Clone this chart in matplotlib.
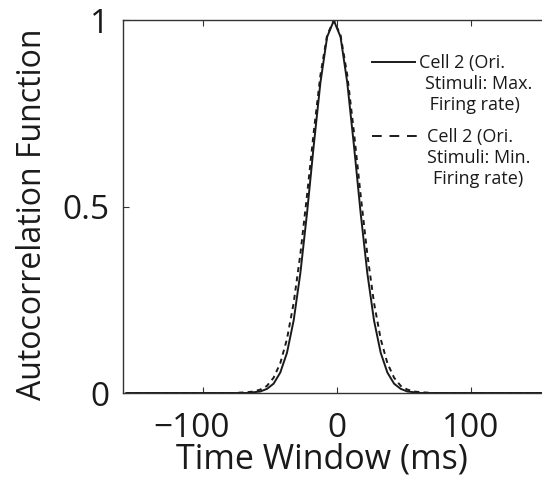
import numpy as np
import matplotlib
matplotlib.use("Agg")
import matplotlib.pyplot as plt
from matplotlib.lines import Line2D
from matplotlib.transforms import ScaledTranslation

plt.rcParams['font.family'] = ['Open Sans', 'DejaVu Sans']

# ---- data ----
lag_ms = np.arange(-157.5, 155.0, 5.0)          # time-window lags (63 samples)
acf_max_rate = ([0.0] * 19 +
                [0.002, 0.004, 0.011, 0.025, 0.055, 0.108, 0.195, 0.322, 0.484, 0.665, 0.834, 0.956,
                 1.0,
                 0.956, 0.834, 0.665, 0.484, 0.322, 0.195, 0.108, 0.055, 0.025, 0.011, 0.004, 0.002] +
                [0.0] * 19)
acf_min_rate = ([0.0] * 17 +
                [0.001, 0.002, 0.004, 0.009, 0.019, 0.041, 0.080, 0.145, 0.242, 0.373, 0.532, 0.701, 0.854, 0.961,
                 1.0,
                 0.961, 0.854, 0.701, 0.532, 0.373, 0.242, 0.145, 0.080, 0.041, 0.019, 0.009, 0.004, 0.002, 0.001] +
                [0.0] * 17)
x_ticks = [-100, 0, 100]
x_ticklabels = ['\u2212100', '0', '100']
y_ticks = [0, 0.5, 1]
y_ticklabels = ['0', '0.5', '1']
legend_max = ['Cell 2 (Ori.', '\u2009\u2009Stimuli: Max.', ' \u2009\u2009Firing rate)']
legend_min = ['Cell 2 (Ori.', 'Stimuli: Min.', '\u2009\u2009Firing rate)']

W, H = 542, 486
fig = plt.figure(figsize=(W / 100, H / 100), dpi=100)
L, R, T, B = 123, 542, 20.5, 393
ax = fig.add_axes([L / W, (H - B) / H, (R - L) / W, (B - T) / H])

ink = '#1a1a1a'
ax.plot(lag_ms, acf_max_rate, color=ink, lw=1.4, solid_joinstyle='miter')
ax.plot(lag_ms, acf_min_rate, color=ink, lw=1.4, dashes=(2.6, 2.2))

ax.set_xlim(-160, 153)
ax.set_ylim(0, 1)
ax.spines['right'].set_visible(False)
for s in ('left', 'top', 'bottom'):
    ax.spines[s].set_linewidth(1.0)
    ax.spines[s].set_color('#333333')

ax.set_xticks(x_ticks)
ax.set_xticklabels(x_ticklabels)
ax.set_yticks(y_ticks)
ax.set_yticklabels(y_ticklabels)
ax.tick_params(direction='in', top=True, right=False, length=4, width=0.8,
               color='#333333', labelsize=24, labelcolor=ink)
ax.tick_params(axis='y', pad=10)
ax.tick_params(axis='x', pad=14)

# the minus sign hangs to the left of the centred digits, as in the reference
neg_lbl = ax.xaxis.get_major_ticks()[0].label1
neg_lbl.set_transform(neg_lbl.get_transform() +
                      ScaledTranslation(-12 / 100, 0, fig.dpi_scale_trans))

ax.set_xlabel('Time Window (ms)', fontsize=24.5, color=ink)
ax.set_ylabel('Autocorrelation Function', fontsize=23, color=ink)
ax.xaxis.set_label_coords((322 - L) / (R - L), -0.132)
ax.yaxis.set_label_coords(-0.177, 0.48)

# ---- legends (two blocks, first line carries the line sample) ----
blank = Line2D([], [], color='none')
h_solid = Line2D([], [], color=ink, lw=1.4)
h_dash = Line2D([], [], color=ink, lw=1.4, dashes=(5.0, 4.0))

leg1 = ax.legend([h_solid, blank, blank], legend_max, loc='upper left',
                 bbox_to_anchor=(372 / W, 1 - 54 / H), bbox_transform=fig.transFigure,
                 frameon=False, fontsize=13, handlelength=2.4, handletextpad=0.2,
                 labelspacing=0.17, borderpad=0, borderaxespad=0)
for t in leg1.get_texts():
    t.set_color(ink)
ax.add_artist(leg1)
leg2 = ax.legend([h_dash, blank, blank], legend_min, loc='upper left',
                 bbox_to_anchor=(372 / W, 1 - 128 / H), bbox_transform=fig.transFigure,
                 frameon=False, fontsize=13, handlelength=2.8, handletextpad=0.25,
                 labelspacing=0.17, borderpad=0, borderaxespad=0)
for t in leg2.get_texts():
    t.set_color(ink)

fig.savefig('out.png', dpi=100)
